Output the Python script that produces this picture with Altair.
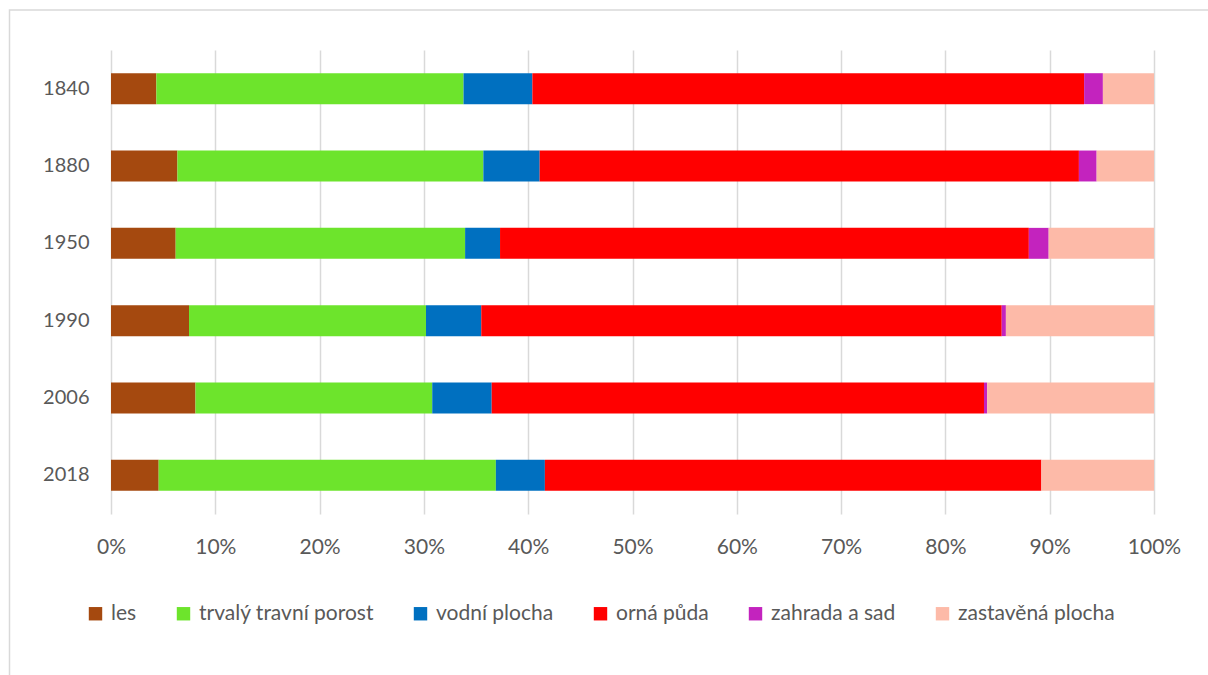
import altair as alt
import pandas as pd

years = ["1840", "1880", "1950", "1990", "2006", "2018"]
categories = ["les", "trvalý travní porost", "vodní plocha", "orná půda", "zahrada a sad", "zastavěná plocha"]
colors = ["#A5490F", "#6DE42C", "#0070C0", "#FF0000", "#C323BE", "#FDBAA8"]

les = [4.35, 6.37, 6.2, 7.48, 8.1, 4.57]
trvaly = [29.45, 29.33, 27.75, 22.72, 22.7, 32.33]
vodni = [6.6, 5.4, 3.35, 5.3, 5.7, 4.7]
orna = [52.9, 51.7, 50.7, 49.9, 47.2, 47.6]
zahrada = [1.8, 1.7, 1.9, 0.4, 0.3, 0.0]
zastavena = [4.9, 5.5, 10.1, 14.2, 16.0, 10.8]

series = [les, trvaly, vodni, orna, zahrada, zastavena]
rows = []
for ci, (cat, vals) in enumerate(zip(categories, series)):
    for y, v in zip(years, vals):
        rows.append({"year": y, "cat": cat, "idx": ci, "value": v})
df = pd.DataFrame(rows)

FONT = "Lato"
TXT = "#595959"

bars = alt.Chart(df).mark_bar().encode(
    x=alt.X("value:Q", stack="zero",
            scale=alt.Scale(domain=[0, 100], nice=False),
            axis=alt.Axis(values=list(range(0, 101, 10)), labelExpr="datum.value + '%'",
                          grid=True, gridColor="#d9d9d9", gridWidth=1.5, ticks=False,
                          domain=False, labelPadding=22, title=None, labelFontSize=21,
                          labelFlush=False, labelOverlap=False,
                          labelColor=TXT, labelFont=FONT)),
    y=alt.Y("year:N", sort=years,
            scale=alt.Scale(paddingInner=0.6, paddingOuter=0.3),
            axis=alt.Axis(title=None, ticks=False, domain=False, labelPadding=22,
                          labelFontSize=20, labelColor=TXT, labelFont=FONT)),
    color=alt.Color("cat:N", scale=alt.Scale(domain=categories, range=colors),
                    legend=alt.Legend(orient="none", legendX=-26, legendY=553,
                                      direction="horizontal", title=None,
                                      symbolType="square", symbolSize=180,
                                      symbolStrokeWidth=0, labelFontSize=21,
                                      labelColor=TXT, labelFont=FONT, labelLimit=400,
                                      columnPadding=36, labelOffset=5)),
    order=alt.Order("idx:Q"),
)

border = alt.Chart(alt.Data(values=[{}])).mark_rect(
    fill=None, stroke="#d9d9d9", strokeWidth=1.5
).encode(
    x=alt.value(-101.5), x2=alt.value(1200), y=alt.value(-40), y2=alt.value(700)
)

chart = alt.layer(border, bars).properties(
    width=1043, height=464,
    autosize=alt.AutoSizeParams(type="none"),
    padding={"left": 111, "top": 50, "right": 54, "bottom": 161},
).configure_view(stroke=None)

chart.save("out.html", embed_options={"renderer": "svg", "actions": False})
